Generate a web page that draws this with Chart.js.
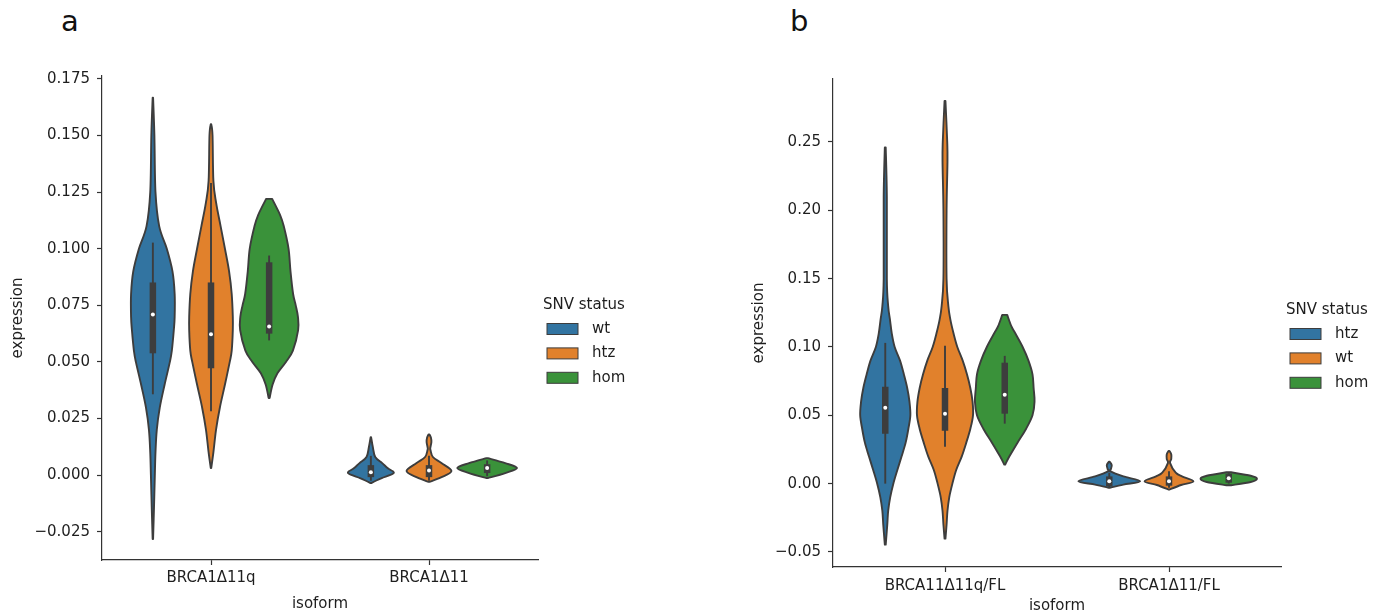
<!DOCTYPE html>
<html>
<head>
<meta charset="utf-8">
<script src="https://cdn.jsdelivr.net/npm/chart.js@4.4.1/dist/chart.umd.min.js"></script>
<style>
  body { margin: 0; background: #fff; width: 1386px; height: 615px; position: relative; overflow: hidden; }
  canvas { position: absolute; top: 0; }
  #chartA { left: 0; }
  #chartB { left: 741px; }
  .tag { position: absolute; font: 29px 'DejaVu Sans'; line-height: 29px; color: #111; }
</style>
</head>
<body>
<div class="tag" style="left:61px;top:7px">a</div>
<div class="tag" style="left:790px;top:7px">b</div>
<canvas id="chartA" width="693" height="615"></canvas>
<canvas id="chartB" width="645" height="615"></canvas>
<script>
// ---- Panel a : datos ----
const categoriesA = ['BRCA1Δ11q', 'BRCA1Δ11'];
const huesA = ['wt', 'htz', 'hom'];
const yTicksA = [-0.025, 0, 0.025, 0.05, 0.075, 0.1, 0.125, 0.15, 0.175];

// violin profiles: [expression, half width in category units], top to bottom
const wtA_q = [[0.1667, 0.001], [0.150, 0.007], [0.125, 0.012], [0.110, 0.029], [0.100, 0.064], [0.090, 0.090],
  [0.080, 0.100], [0.070, 0.100], [0.064, 0.096], [0.055, 0.087], [0.050, 0.078], [0.040, 0.054], [0.030, 0.032],
  [0.020, 0.018], [0.010, 0.012], [0.000, 0.009], [-0.015, 0.005], [-0.0282, 0.001]];
const htzA_q = [[0.155, 0.001], [0.150, 0.007], [0.130, 0.011], [0.120, 0.024], [0.110, 0.044], [0.100, 0.064],
  [0.090, 0.083], [0.080, 0.095], [0.070, 0.100], [0.064, 0.100], [0.055, 0.095], [0.050, 0.086], [0.040, 0.064],
  [0.030, 0.041], [0.020, 0.023], [0.010, 0.011], [0.0031, 0.001]];
const homA_q = [[0.122, 0.014], [0.115, 0.050], [0.110, 0.067], [0.100, 0.089], [0.090, 0.098], [0.080, 0.110],
  [0.075, 0.122], [0.070, 0.132], [0.064, 0.133], [0.055, 0.109], [0.050, 0.077], [0.045, 0.038], [0.040, 0.016],
  [0.034, 0.002]];
const wtA_s = [[0.0168, 0.001], [0.0124, 0.009], [0.008, 0.020], [0.0053, 0.052], [0.003, 0.078], [0.0009, 0.105],
  [-0.0013, 0.050], [-0.0025, 0.023], [-0.0035, 0.002]];
const htzA_s = [[0.018, 0.002], [0.0165, 0.009], [0.0146, 0.011], [0.012, 0.006], [0.011, 0.007], [0.008, 0.018],
  [0.0053, 0.057], [0.0018, 0.103], [-0.001, 0.055], [-0.003, 0.002]];
const homA_s = [[0.0075, 0.003], [0.0053, 0.083], [0.0031, 0.137], [0.0009, 0.083], [-0.0013, 0.003]];

// inner boxes: [whisker low, q1, median, q3, whisker high]
const boxWtA = [[0.0357, 0.0538, 0.0710, 0.0851, 0.1027], [-0.0025, -0.0009, 0.0013, 0.0044, 0.0085]];
const boxHtzA = [[0.0282, 0.0472, 0.0622, 0.0851, 0.129], [-0.0025, -0.0009, 0.0020, 0.0044, 0.0085]];
const boxHomA = [[0.0595, 0.0625, 0.0657, 0.094, 0.097], [-0.0005, 0.0009, 0.0031, 0.0048, 0.0065]];

// ---- Panel b : datos ----
const categoriesB = ['BRCA11Δ11q/FL', 'BRCA1Δ11/FL'];
const huesB = ['htz', 'wt', 'hom'];
const yTicksB = [-0.05, 0, 0.05, 0.1, 0.15, 0.2, 0.25];

const htzB_q = [[0.246, 0.002], [0.210, 0.007], [0.150, 0.007], [0.130, 0.013], [0.120, 0.021], [0.110, 0.029],
  [0.100, 0.042], [0.090, 0.066], [0.080, 0.083], [0.070, 0.098], [0.060, 0.108], [0.050, 0.112], [0.040, 0.103],
  [0.030, 0.091], [0.020, 0.073], [0.010, 0.054], [0.000, 0.036], [-0.010, 0.022], [-0.020, 0.013],
  [-0.030, 0.009], [-0.0446, 0.002]];
const wtB_q = [[0.280, 0.002], [0.250, 0.010], [0.235, 0.011], [0.200, 0.007], [0.150, 0.007], [0.130, 0.015],
  [0.120, 0.024], [0.110, 0.038], [0.100, 0.055], [0.090, 0.079], [0.080, 0.098], [0.070, 0.113], [0.060, 0.123],
  [0.050, 0.125], [0.040, 0.113], [0.030, 0.095], [0.020, 0.075], [0.010, 0.050], [0.000, 0.033],
  [-0.010, 0.019], [-0.020, 0.011], [-0.030, 0.007], [-0.0402, 0.002]];
const homB_q = [[0.1235, 0.011], [0.115, 0.030], [0.110, 0.047], [0.100, 0.080], [0.090, 0.106], [0.080, 0.124],
  [0.070, 0.129], [0.060, 0.133], [0.050, 0.124], [0.040, 0.095], [0.030, 0.057], [0.020, 0.021], [0.0139, 0.002]];
const htzB_s = [[0.016, 0.002], [0.0135, 0.011], [0.0105, 0.007], [0.009, 0.006], [0.0053, 0.063], [0.0017, 0.138],
  [-0.0007, 0.063], [-0.003, 0.002]];
const wtB_s = [[0.024, 0.002], [0.0215, 0.010], [0.018, 0.010], [0.015, 0.005], [0.008, 0.030], [0.0053, 0.058],
  [0.0017, 0.109], [-0.001, 0.054], [-0.0044, 0.002]];
const homB_s = [[0.0083, 0.010], [0.0058, 0.098], [0.0036, 0.126], [0.0012, 0.098], [-0.0012, 0.010]];

const boxHtzB = [[0.000, 0.0365, 0.0555, 0.0709, 0.103], [-0.003, -0.002, 0.0017, 0.0053, 0.008]];
const boxWtB = [[0.027, 0.0387, 0.0512, 0.070, 0.1009], [-0.003, -0.0015, 0.0017, 0.0053, 0.009]];
const boxHomB = [[0.0439, 0.0512, 0.065, 0.0885, 0.0935], [0.000, 0.0007, 0.004, 0.0073, 0.008]];

// ---- estilo ----
const PALETTE = ['#3274a1', '#e1812c', '#3a923a'];
const EDGE = '#3d3d3d';
const TEXT = '#1e1e1e';
const DODGE = 0.8 / 3;
const FONT = "'DejaVu Sans', sans-serif";

Chart.defaults.font.family = FONT;
Chart.defaults.font.size = 15;
Chart.defaults.color = TEXT;

// one side of a violin, catmull-rom so the curve passes through every point
function traceSide(ctx, pts, first) {
  if (first) ctx.moveTo(pts[0][0], pts[0][1]);
  else ctx.lineTo(pts[0][0], pts[0][1]);
  for (let i = 0; i < pts.length - 1; i++) {
    const p0 = pts[Math.max(i - 1, 0)];
    const p1 = pts[i];
    const p2 = pts[i + 1];
    const p3 = pts[Math.min(i + 2, pts.length - 1)];
    ctx.bezierCurveTo(
      p1[0] + (p2[0] - p0[0]) / 6, p1[1] + (p2[1] - p0[1]) / 6,
      p2[0] - (p3[0] - p1[0]) / 6, p2[1] - (p3[1] - p1[1]) / 6,
      p2[0], p2[1]
    );
  }
}

const violinPlugin = {
  id: 'violins',
  beforeDatasetsDraw(chart) {
    const { ctx, scales: { x, y } } = chart;
    ctx.save();
    chart.data.datasets.forEach((ds, h) => {
      ds.profiles.forEach((profile, c) => {
        const cx = c + (h - 1) * DODGE;
        const right = profile.map(([v, w]) => [x.getPixelForValue(cx + w), y.getPixelForValue(v)]);
        const left = profile.slice().reverse().map(([v, w]) => [x.getPixelForValue(cx - w), y.getPixelForValue(v)]);
        ctx.beginPath();
        traceSide(ctx, right, true);
        traceSide(ctx, left, false);
        ctx.closePath();
        ctx.fillStyle = ds.violinColor;
        ctx.fill();
        ctx.lineJoin = 'round';
        ctx.lineWidth = 1.9;
        ctx.strokeStyle = EDGE;
        ctx.stroke();

        // caja interior
        const b = ds.boxes[c];
        const px = x.getPixelForValue(cx);
        ctx.lineCap = 'butt';
        ctx.beginPath();
        ctx.moveTo(px, y.getPixelForValue(b[0]));
        ctx.lineTo(px, y.getPixelForValue(b[4]));
        ctx.lineWidth = 1.9;
        ctx.stroke();
        ctx.beginPath();
        ctx.moveTo(px, y.getPixelForValue(b[1]));
        ctx.lineTo(px, y.getPixelForValue(b[3]));
        ctx.lineWidth = 6.5;
        ctx.stroke();
      });
    });
    ctx.restore();
  }
};

const legendPlugin = {
  id: 'snvLegend',
  afterDraw(chart) {
    const { ctx, chartArea: a } = chart;
    const x0 = a.right + 5;
    const yc = (a.top + a.bottom) / 2;
    ctx.save();
    ctx.font = `15px ${FONT}`;
    ctx.fillStyle = TEXT;
    ctx.textBaseline = 'middle';
    ctx.fillText('SNV status', x0, yc - 12.5);
    chart.data.datasets.forEach((ds, i) => {
      const ry = yc + 11 + i * 24.4;
      ctx.fillStyle = ds.violinColor;
      ctx.fillRect(x0 + 4, ry - 5.5, 31, 11);
      ctx.strokeStyle = EDGE;
      ctx.lineWidth = 1;
      ctx.strokeRect(x0 + 4, ry - 5.5, 31, 11);
      ctx.fillStyle = TEXT;
      ctx.fillText(ds.label, x0 + 49, ry);
    });
    ctx.restore();
  }
};

function fmt(v, d) {
  const s = Math.abs(v).toFixed(d);
  return v < 0 ? '\u2212' + s : s;
}

function makePanel(id, p) {
  const datasets = p.hues.map((hue, h) => ({
    label: hue,
    violinColor: PALETTE[h],
    profiles: p.profiles[h],
    boxes: p.boxes[h],
    data: p.boxes[h].map((b, c) => ({ x: c + (h - 1) * DODGE, y: b[2] })),
    pointRadius: 2,
    pointBackgroundColor: '#ffffff',
    pointBorderWidth: 0,
    showLine: false
  }));

  return new Chart(document.getElementById(id), {
    type: 'scatter',
    data: { datasets },
    options: {
      responsive: false,
      animation: false,
      devicePixelRatio: 1,
      events: [],
      layout: { padding: { top: p.top, right: p.right, left: 0, bottom: 0 } },
      plugins: { legend: { display: false }, tooltip: { enabled: false } },
      scales: {
        x: {
          type: 'linear', min: -0.5, max: 1.5,
          afterBuildTicks: (axis) => { axis.ticks = p.categories.map((c, i) => ({ value: i })); },
          afterFit: (s) => { s.height = p.xHeight; },
          ticks: { callback: (v) => p.categories[v], autoSkip: false, maxRotation: 0, padding: p.xPad, color: TEXT },
          grid: { drawOnChartArea: false, drawTicks: true, tickLength: 5, tickWidth: 1.2, tickColor: '#333' },
          border: { display: true, color: '#333', width: 1.2 },
          title: { display: true, text: 'isoform', color: TEXT, padding: { top: 0, bottom: p.titlePad } }
        },
        y: {
          type: 'linear', min: p.yMin, max: p.yMax,
          afterBuildTicks: (axis) => { axis.ticks = p.yTicks.map((v) => ({ value: v })); },
          afterFit: (s) => { s.width = p.yWidth; },
          ticks: { callback: (v) => fmt(v, p.decimals), padding: 7, color: TEXT },
          grid: { drawOnChartArea: false, drawTicks: true, tickLength: 5, tickWidth: 1.2, tickColor: '#333' },
          border: { display: true, color: '#333', width: 1.2 },
          title: { display: true, text: 'expression', color: TEXT, padding: { top: 9, bottom: 0 } }
        }
      }
    },
    plugins: [violinPlugin, legendPlugin]
  });
}

makePanel('chartA', {
  categories: categoriesA, hues: huesA, yTicks: yTicksA, decimals: 3,
  profiles: [[wtA_q, wtA_s], [htzA_q, htzA_s], [homA_q, homA_s]],
  boxes: [boxWtA, boxHtzA, boxHomA],
  yMin: -0.0375, yMax: 0.1763,
  top: 76, right: 155, yWidth: 102, xHeight: 55, xPad: 4, titlePad: 2
});

makePanel('chartB', {
  categories: categoriesB, hues: huesB, yTicks: yTicksB, decimals: 2,
  profiles: [[htzB_q, htzB_s], [wtB_q, wtB_s], [homB_q, homB_s]],
  boxes: [boxHtzB, boxWtB, boxHomB],
  yMin: -0.061, yMax: 0.2961,
  top: 79, right: 105, yWidth: 92, xHeight: 48, xPad: 5, titlePad: 0
});
</script>
</body>
</html>
